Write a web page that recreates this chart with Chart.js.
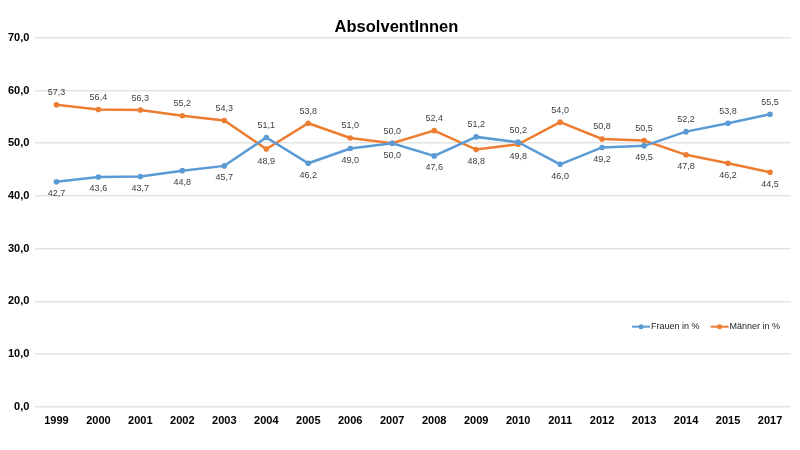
<!DOCTYPE html>
<html>
<head>
<meta charset="utf-8">
<script src="https://cdn.jsdelivr.net/npm/chart.js@4/dist/chart.umd.min.js"></script>
<style>
  html, body { margin: 0; padding: 0; background: #fff; }
  #wrap { width: 800px; height: 450px; }
</style>
</head>
<body>
<div id="wrap"><canvas id="chart" width="800" height="450"></canvas></div>
<script>
// ══ DATA ══
const years  = ['1999','2000','2001','2002','2003','2004','2005','2006','2007','2008','2009','2010','2011','2012','2013','2014','2015','2017'];
const frauen = [42.7, 43.6, 43.7, 44.8, 45.7, 51.1, 46.2, 49.0, 50.0, 47.6, 51.2, 50.2, 46.0, 49.2, 49.5, 52.2, 53.8, 55.5];
const maenner = [57.3, 56.4, 56.3, 55.2, 54.3, 48.9, 53.8, 51.0, 50.0, 52.4, 48.8, 49.8, 54.0, 50.8, 50.5, 47.8, 46.2, 44.5];
const yTicks = [0, 10, 20, 30, 40, 50, 60, 70];

const BLUE = '#5b9bd5', ORANGE = '#ed7d31';
const FONT = '"Liberation Sans", Arial, Helvetica, sans-serif';

function fmt(v) { return v.toFixed(1).replace('.', ','); }

// value labels: higher series above the point, lower one below
const valueLabels = {
  id: 'valueLabels',
  afterDatasetsDraw(chart) {
    const ctx = chart.ctx;
    const sets = chart.data.datasets;
    ctx.save();
    ctx.font = '9px ' + FONT;
    ctx.fillStyle = '#404040';
    ctx.textAlign = 'center';
    ctx.textBaseline = 'middle';
    sets.forEach((ds, di) => {
      const other = sets[1 - di].data;
      chart.getDatasetMeta(di).data.forEach((pt, i) => {
        const v = ds.data[i];
        const above = v > other[i] || (v === other[i] && di === 1);
        ctx.fillText(fmt(v), pt.x, pt.y + (above ? -12 : 12));
      });
    });
    ctx.restore();
  }
};

// legend inside the plot, lower right
const innerLegend = {
  id: 'innerLegend',
  afterDraw(chart) {
    const ctx = chart.ctx;
    const y = chart.scales.y.getPixelForValue(15.2);
    let x = 632;
    ctx.save();
    ctx.font = '9px ' + FONT;
    ctx.textBaseline = 'middle';
    chart.data.datasets.forEach(ds => {
      ctx.strokeStyle = ds.borderColor;
      ctx.lineWidth = 2;
      ctx.beginPath(); ctx.moveTo(x, y); ctx.lineTo(x + 18, y); ctx.stroke();
      ctx.fillStyle = ds.borderColor;
      ctx.beginPath(); ctx.arc(x + 9, y, 2.5, 0, Math.PI * 2); ctx.fill();
      ctx.fillStyle = '#222';
      ctx.fillText(ds.label, x + 19, y);
      x += 19 + ctx.measureText(ds.label).width + 11;
    });
    ctx.restore();
  }
};

new Chart(document.getElementById('chart'), {
  type: 'line',
  data: {
    labels: years,
    datasets: [
      { label: 'Frauen in %', data: frauen, borderColor: BLUE, backgroundColor: BLUE,
        pointBackgroundColor: BLUE, pointBorderWidth: 0, borderWidth: 2.5, pointRadius: 2.8, tension: 0 },
      { label: 'Männer in %', data: maenner, borderColor: ORANGE, backgroundColor: ORANGE,
        pointBackgroundColor: ORANGE, pointBorderWidth: 0, borderWidth: 2.5, pointRadius: 2.8, tension: 0 }
    ]
  },
  options: {
    responsive: false,
    animation: false,
    layout: { padding: { left: 2, right: 9, top: 0, bottom: 22 } },
    plugins: {
      legend: { display: false },
      tooltip: { enabled: false },
      title: {
        display: true, text: 'AbsolventInnen', color: '#000',
        font: { family: FONT, size: 16.5, weight: 'bold' },
        padding: { top: 18, bottom: 0 }
      }
    },
    scales: {
      x: {
        offset: true,
        grid: { display: false },
        border: { display: false },
        ticks: { color: '#000', font: { family: FONT, size: 11, weight: 'bold' }, padding: 0, maxRotation: 0, autoSkip: false }
      },
      y: {
        min: yTicks[0], max: yTicks[yTicks.length - 1],
        afterBuildTicks(scale) { scale.ticks = yTicks.map(v => ({ value: v })); },
        grid: { color: '#e4e4e4', lineWidth: 1.5, drawTicks: false },
        border: { display: false },
        ticks: { color: '#000', font: { family: FONT, size: 11, weight: 'bold' }, padding: 6,
                 callback: v => fmt(v) }
      }
    }
  },
  plugins: [valueLabels, innerLegend]
});
</script>
</body>
</html>
